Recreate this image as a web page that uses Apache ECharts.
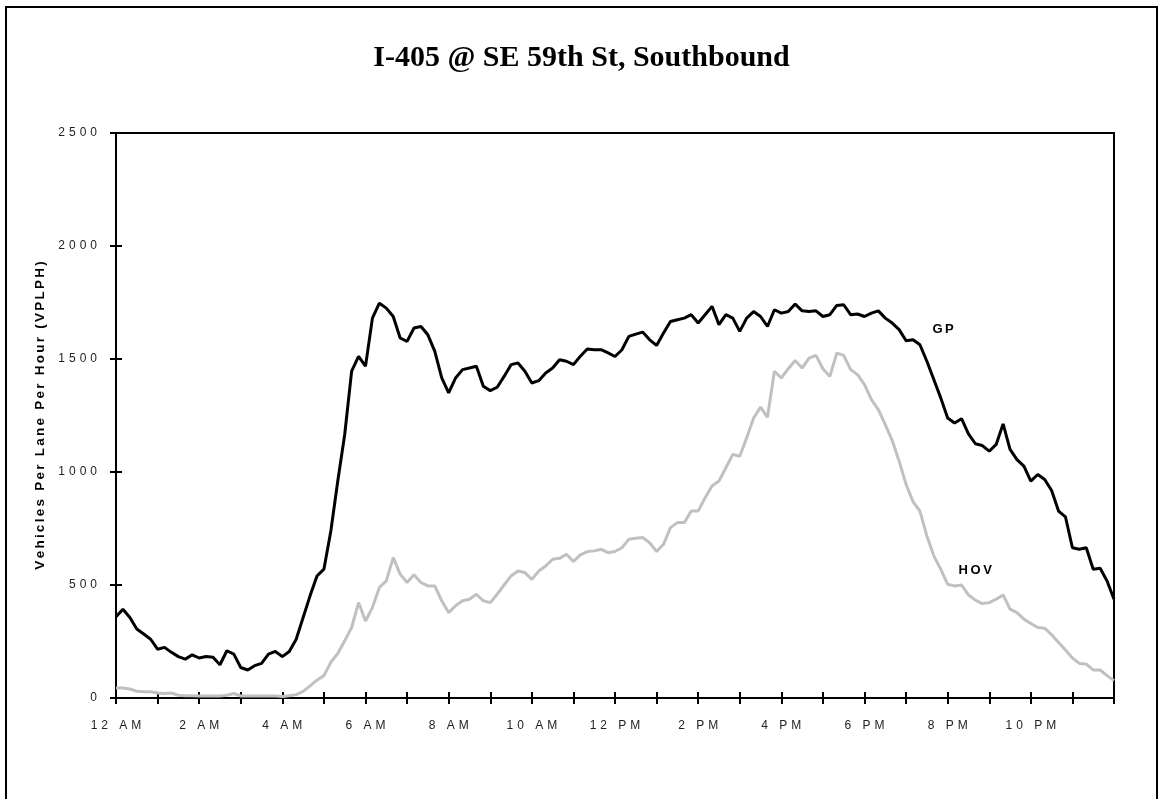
<!DOCTYPE html>
<html>
<head>
    <meta charset="utf-8">
    <title>I-405 @ SE 59th St, Southbound</title>
    <script src="https://cdn.jsdelivr.net/npm/echarts@6/dist/echarts.min.js"></script>
    <style>
        html, body { margin: 0; padding: 0; background: #fff; }
        #box { width: 1163px; height: 799px; }
    </style>
</head>
<body>
    <div id="box"></div>
    <script>
        // 10 minute counts, 00:00 .. 24:00
        var stepMinutes = 10;
        var gpVolume = [
            359, 393, 356, 305, 283, 260, 216, 224, 202, 183, 172, 191,
            177, 184, 180, 147, 209, 194, 135, 124, 143, 153, 194, 206,
            183, 206, 260, 356, 452, 540, 570, 739, 960, 1166, 1446, 1512,
            1468, 1681, 1747, 1725, 1688, 1593, 1578, 1637, 1644, 1607, 1534, 1416,
            1350, 1416, 1453, 1460, 1468, 1379, 1360, 1375, 1423, 1475, 1482, 1446,
            1394, 1404, 1438, 1460, 1497, 1490, 1475, 1512, 1544, 1541, 1541, 1527,
            1511, 1541, 1600, 1610, 1619, 1585, 1560, 1615, 1666, 1674, 1681, 1696,
            1659, 1696, 1733, 1652, 1696, 1681, 1622, 1681, 1710, 1688, 1644, 1718,
            1703, 1710, 1743, 1713, 1710, 1713, 1688, 1696, 1737, 1740, 1696, 1699,
            1688, 1703, 1713, 1681, 1659, 1630, 1581, 1585, 1563, 1490, 1409, 1328,
            1239, 1217, 1236, 1169, 1125, 1117, 1092, 1122, 1213, 1100, 1055, 1026,
            960, 989, 967, 918, 827, 801, 665, 658, 665, 570, 574, 518,
            437
        ];
        var hovVolume = [
            44, 44, 40, 30, 28, 28, 22, 20, 22, 12, 10, 10,
            9, 9, 9, 9, 12, 20, 9, 9, 9, 9, 9, 9,
            7, 10, 15, 29, 54, 79, 99, 158, 197, 253, 312, 422,
            341, 400, 489, 518, 621, 548, 511, 545, 511, 496, 496, 430,
            378, 408, 430, 437, 459, 430, 422, 459, 500, 540, 562, 555,
            525, 562, 584, 614, 618, 636, 604, 633, 648, 651, 658, 643,
            648, 665, 702, 707, 710, 687, 648, 680, 754, 776, 776, 827,
            827, 886, 938, 960, 1019, 1078, 1070, 1151, 1239, 1287, 1242, 1446,
            1416, 1457, 1493, 1460, 1504, 1516, 1457, 1423, 1526, 1516, 1453, 1431,
            1387, 1320, 1276, 1210, 1139, 1048, 945, 869, 827, 717, 629, 570,
            503, 496, 500, 456, 433, 418, 422, 437, 456, 393, 378, 349,
            330, 312, 309, 280, 246, 212, 177, 153, 150, 124, 124, 99,
            77
        ];
        var hourLabels = ['12 AM', '2 AM', '4 AM', '6 AM', '8 AM', '10 AM',
                          '12 PM', '2 PM', '4 PM', '6 PM', '8 PM', '10 PM'];
        var yTicks = [0, 500, 1000, 1500, 2000, 2500];

        // the original text is letter spaced
        function spaced(s, sp) { return s.split('').join(sp); }

        function pairs(values) {
            return values.map(function (v, i) { return [i * stepMinutes / 60, v]; });
        }

        var sans = 'Liberation Sans';
        var myChart = echarts.init(document.getElementById('box'));
        var option = {
            animation: false,
            backgroundColor: '#fff',
            title: {
                text: 'I-405 @ SE 59th St, Southbound',
                left: 'center',
                top: 38,
                textStyle: { fontFamily: 'Liberation Serif', fontWeight: 'bold', fontSize: 30, color: '#000' }
            },
            graphic: [{
                type: 'rect',
                shape: { x: 6, y: 7, width: 1151, height: 820 },
                style: { fill: null, stroke: '#000', lineWidth: 2 },
                silent: true
            }],
            grid: {
                left: 116, right: 49, top: 133, bottom: 101,
                show: true, borderColor: '#000', borderWidth: 2
            },
            xAxis: [{
                type: 'value', min: 0, max: 24, interval: 1,
                axisLine: { lineStyle: { color: '#000', width: 2 } },
                axisTick: { show: true, length: 6, lineStyle: { color: '#000', width: 2 } },
                splitLine: { show: false },
                axisLabel: {
                    margin: 22, color: '#222', fontFamily: sans, fontSize: 12,
                    formatter: function (v) {
                        return (v % 2 === 0 && v < 24) ? spaced(hourLabels[v / 2], '\u2004') : '';
                    }
                }
            }, {
                type: 'value', min: 0, max: 24, interval: 1, position: 'bottom',
                axisLine: { show: false },
                axisTick: { show: true, inside: true, length: 6, lineStyle: { color: '#000', width: 2 } },
                axisLabel: { show: false },
                splitLine: { show: false }
            }],
            yAxis: [{
                type: 'value', min: yTicks[0], max: yTicks[yTicks.length - 1], interval: 500,
                name: spaced('Vehicles Per Lane Per Hour (VPLPH)', '\u2006'),
                nameLocation: 'middle', nameRotate: 90, nameGap: 69,
                nameTextStyle: { fontFamily: sans, fontWeight: 'bold', fontSize: 13.5, color: '#000' },
                axisLine: { show: true, lineStyle: { color: '#000', width: 2 } },
                axisTick: { show: true, length: 6, lineStyle: { color: '#000', width: 2 } },
                splitLine: { show: false },
                axisLabel: {
                    margin: 19, color: '#222', fontFamily: sans, fontSize: 12,
                    formatter: function (v) { return spaced(String(v), '\u2004'); }
                }
            }, {
                type: 'value', min: yTicks[0], max: yTicks[yTicks.length - 1], interval: 500, position: 'left',
                axisLine: { show: false },
                axisTick: { show: true, inside: true, length: 6, lineStyle: { color: '#000', width: 2 } },
                axisLabel: { show: false },
                splitLine: { show: false }
            }],
            series: [{
                name: 'HOV',
                type: 'line',
                data: pairs(hovVolume),
                showSymbol: false,
                lineStyle: { color: '#c0c0c0', width: 3 },
                itemStyle: { color: '#c0c0c0' },
                markPoint: {
                    symbol: 'rect', symbolSize: 1,
                    itemStyle: { color: 'rgba(0,0,0,0)' },
                    label: { show: true, position: 'inside', formatter: spaced('HOV', '\u2009'),
                             fontFamily: sans, fontWeight: 'bold', fontSize: 13, color: '#000' },
                    data: [{ coord: [20.66, 566] }]
                }
            }, {
                name: 'GP',
                type: 'line',
                data: pairs(gpVolume),
                showSymbol: false,
                lineStyle: { color: '#000', width: 3 },
                itemStyle: { color: '#000' },
                markPoint: {
                    symbol: 'rect', symbolSize: 1,
                    itemStyle: { color: 'rgba(0,0,0,0)' },
                    label: { show: true, position: 'inside', formatter: spaced('GP', '\u2009'),
                             fontFamily: sans, fontWeight: 'bold', fontSize: 13, color: '#000' },
                    data: [{ coord: [19.89, 1630] }]
                }
            }]
        };
        myChart.setOption(option);
    </script>
</body>
</html>
